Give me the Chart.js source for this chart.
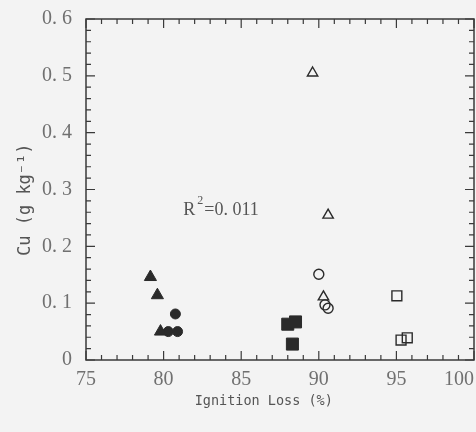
<!DOCTYPE html>
<html>
<head>
<meta charset="utf-8">
<script src="https://cdn.jsdelivr.net/npm/chart.js@4"></script>
<style>
  body { margin: 0; background: #f3f3f3; }
  canvas { display: block; }
</style>
</head>
<body>
<canvas id="grafico" width="476" height="432"></canvas>
<script>
// datos
const xTickLabels = ['75', '80', '85', '90', '95', '100'];
const yTickLabels = ['0', '0. 1', '0. 2', '0. 3', '0. 4', '0. 5', '0. 6'];

const trianguloLleno = [[79.15, 0.146], [79.6, 0.114], [79.8, 0.05]];
const circuloLleno = [[80.76, 0.081], [80.3, 0.05], [80.9, 0.05]];
const cuadradoLleno = [[88.0, 0.063], [88.5, 0.067], [88.3, 0.028]];
const trianguloVacio = [[89.6, 0.505], [90.6, 0.255], [90.3, 0.111]];
const circuloVacio = [[90.0, 0.151], [90.4, 0.097], [90.6, 0.091]];
const cuadradoVacio = [[95.03, 0.113], [95.3, 0.035], [95.7, 0.039]];

const r2Texto = ['R', '2', '=0. 011'];
const r2Pos = [81.27, 0.264];

const tinta = '#2a2a2a';
const gris = '#707070';

function puntos(arr) {
    return arr.map(p => ({ x: p[0], y: p[1] }));
}

function serie(arr, estilo, radio, lleno) {
    return {
        data: puntos(arr),
        pointStyle: estilo,
        pointRadius: radio,
        pointHoverRadius: radio,
        pointBackgroundColor: lleno ? tinta : 'rgba(0,0,0,0)',
        pointBorderColor: tinta,
        pointBorderWidth: lleno ? 1 : 1.4,
        showLine: false
    };
}

// marco, marcas hacia dentro y texto R2
const marcoPlugin = {
    id: 'marco',
    afterDraw(chart) {
        const ctx = chart.ctx;
        const xs = chart.scales.x;
        const ys = chart.scales.y;
        const a = chart.chartArea;
        ctx.save();
        ctx.strokeStyle = '#3a3a3a';
        ctx.lineWidth = 1.5;
        ctx.strokeRect(a.left, a.top, a.right - a.left, a.bottom - a.top);
        ctx.lineWidth = 1.2;
        ctx.beginPath();
        for (let v = 75; v <= 100; v++) {
            const px = xs.getPixelForValue(v);
            const len = v % 5 === 0 ? 9 : 5;
            ctx.moveTo(px, a.bottom); ctx.lineTo(px, a.bottom - len);
            ctx.moveTo(px, a.top); ctx.lineTo(px, a.top + len);
        }
        for (let i = 0; i <= 30; i++) {
            const py = ys.getPixelForValue(i * 0.02);
            const len = i % 5 === 0 ? 9 : 5;
            ctx.moveTo(a.left, py); ctx.lineTo(a.left + len, py);
            ctx.moveTo(a.right, py); ctx.lineTo(a.right - len, py);
        }
        ctx.stroke();

        // R^2
        let tx = xs.getPixelForValue(r2Pos[0]);
        const ty = ys.getPixelForValue(r2Pos[1]);
        ctx.fillStyle = '#555';
        ctx.textBaseline = 'middle';
        ctx.font = '18px "Liberation Serif"';
        ctx.fillText(r2Texto[0], tx, ty);
        tx += ctx.measureText(r2Texto[0]).width + 2;
        ctx.font = '12px "Liberation Serif"';
        ctx.fillText(r2Texto[1], tx, ty - 9);
        tx += ctx.measureText(r2Texto[1]).width + 1;
        ctx.font = '18px "Liberation Serif"';
        ctx.fillText(r2Texto[2], tx, ty);
        ctx.restore();
    }
};

new Chart(document.getElementById('grafico').getContext('2d'), {
    type: 'scatter',
    data: {
        datasets: [
            serie(trianguloLleno, 'triangle', 7, true),
            serie(circuloLleno, 'circle', 5, true),
            serie(cuadradoLleno, 'rect', 8.5, true),
            serie(trianguloVacio, 'triangle', 6, false),
            serie(circuloVacio, 'circle', 5, false),
            serie(cuadradoVacio, 'rect', 7, false)
        ]
    },
    options: {
        responsive: false,
        animation: false,
        layout: { autoPadding: false, padding: { top: 19, right: 2, left: 0, bottom: 0 } },
        plugins: {
            legend: { display: false },
            tooltip: { enabled: false }
        },
        scales: {
            x: {
                type: 'linear',
                min: 75,
                max: 100,
                grid: { display: false, drawTicks: true, tickLength: 8 },
                border: { display: false },
                afterFit: s => { s.height = 72; s.paddingLeft = 0; s.paddingRight = 0; },
                ticks: {
                    stepSize: 5,
                    padding: 0,
                    color: gris,
                    font: { family: 'Liberation Serif', size: 20 },
                    // el "100" queda desplazado a la izquierda como en el original
                    callback: v => {
                        const t = xTickLabels[Math.round((v - 75) / 5)];
                        return v === 100 ? t + '      ' : t;
                    }
                },
                title: {
                    display: true,
                    text: 'Ignition Loss (%)    ',
                    color: '#555',
                    font: { family: 'DejaVu Sans Mono', size: 13.5 },
                    padding: { top: 0, bottom: 22 }
                }
            },
            y: {
                min: 0,
                max: 0.6,
                grid: { display: false, drawTicks: false },
                border: { display: false },
                afterFit: s => { s.width = 86; s.paddingTop = 0; s.paddingBottom = 0; },
                ticks: {
                    stepSize: 0.1,
                    padding: 14,
                    color: gris,
                    font: { family: 'Liberation Serif', size: 20 },
                    callback: v => yTickLabels[Math.round(v * 10)]
                },
                title: {
                    display: true,
                    text: 'Cu (g kg⁻¹)  ',
                    color: '#555',
                    font: { family: 'DejaVu Sans Mono', size: 17 },
                    padding: { top: 15, bottom: 0 }
                }
            }
        }
    },
    plugins: [marcoPlugin]
});
</script>
</body>
</html>
